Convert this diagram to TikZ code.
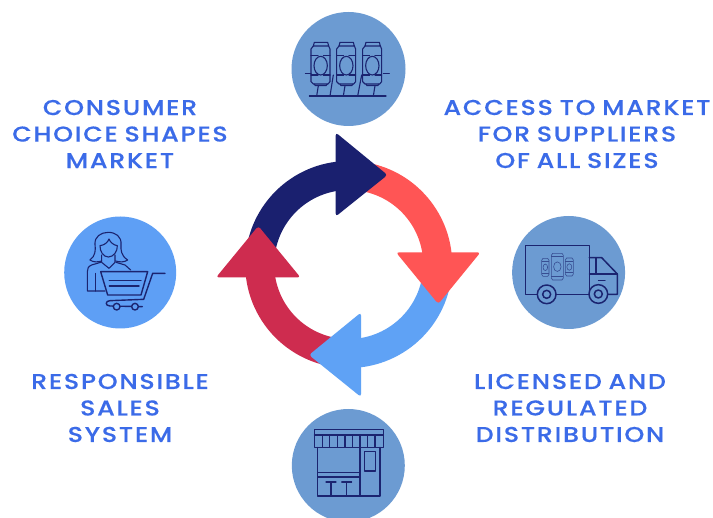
\documentclass[tikz,border=0pt]{standalone}
\usepackage{fontspec}
\setmainfont{Poppins Medium}[LetterSpace=8,FakeStretch=1.18,WordSpace=0.8,FakeBold=0.25]
\definecolor{navyc}{HTML}{1A206F}
\definecolor{coralc}{HTML}{FF5555}
\definecolor{bluec}{HTML}{5FA2F5}
\definecolor{crimc}{HTML}{CE2C4F}
\definecolor{discc}{HTML}{6C9BD2}
\definecolor{disccb}{HTML}{5E9FF5}
\definecolor{textc}{HTML}{3B6BE8}
\definecolor{inkc}{HTML}{1B2470}
\tikzset{
  caption/.style={text=textc,align=center,font=\fontsize{21.5}{26.5}\selectfont,inner sep=0pt},
  disc/.style={circle,fill=discc,inner sep=0pt,draw=none},
  ring/.style={line width=29pt,line cap=butt},
  head/.style={rounded corners=3pt,draw=none},
  ink/.style={draw=inkc,line width=1.1pt,line join=round,line cap=round},
  thinink/.style={draw=inkc!65!discc,line width=0.6pt},
}
\newcommand{\canshape}[1]{%
  \begin{scope}[shift={(#1,197)}]
    \draw[ink] (-19,-70) -- (21,-70) -- (24,-59) -- (-22,-59) -- cycle;
    \draw[ink] (-22,-59) -- (-29,-50) -- (-29,48) -- (-22,55) -- (22,55) -- (28,48) -- (28,-50) -- (24,-59);
    \draw[ink] (-19,55) -- (-16,60) -- (16,60) -- (20,55);
    \draw[ink] (-29,-30) -- (-8,-30) (8,-30) -- (28,-30);
    \draw[ink] (-29,28) -- (-8,28) (8,28) -- (28,28);
    \draw[ink] (0,0) ellipse [x radius=20,y radius=28];
  \end{scope}}
\newcommand{\minican}[4]{%
  \draw[thinink] (#1-#3,#2-#4+6) -- (#1-#3+4,#2-#4) -- (#1+#3-4,#2-#4) -- (#1+#3,#2-#4+6) -- (#1+#3,#2+#4-6) -- (#1+#3-4,#2+#4) -- (#1-#3+4,#2+#4) -- (#1-#3,#2+#4-6) -- cycle;
  \draw[thinink] (#1,#2) ellipse [x radius=#3*0.62,y radius=#4*0.36];
  \draw[thinink] (#1-#3,#2-#4+10) -- (#1+#3,#2-#4+10) (#1-#3,#2+#4-10) -- (#1+#3,#2+#4-10);}
\begin{document}
\begin{tikzpicture}[x=1pt,y=-1pt]
\useasboundingbox (0,0) rectangle (713,518);
\fill[white] (0,0) rectangle (713,518);
% discs
\node[disc,minimum size=114pt] (dtop) at (348.5,69) {};
\node[disc,minimum size=113pt] (dright) at (568.6,272.5) {};
\node[disc,minimum size=113pt] (dbottom) at (348.3,465.5) {};
\node[disc,fill=disccb,minimum size=112pt] (dleft) at (120.2,272.5) {};
% captions
\node[caption] (tl) at (120,134) {CONSUMER\\CHOICE SHAPES\\MARKET};
\node[caption] (tr) at (577,134) {ACCESS TO MARKET\\FOR SUPPLIERS\\OF ALL SIZES};
\node[caption] (bl) at (120,408) {RESPONSIBLE\\SALES\\SYSTEM};
\node[caption] (br) at (570,408) {LICENSED AND\\REGULATED\\DISTRIBUTION};
% ring
\coordinate (c) at (348.7,264.5);
\begin{scope}[y=1pt]
  \draw[ring,crimc] (c) ++(-95:89) arc[start angle=-95,end angle=-175,radius=89];
  \draw[ring,navyc] (c) ++(175:89) arc[start angle=175,end angle=95,radius=89];
  \draw[ring,coralc] (c) ++(80:89) arc[start angle=80,end angle=-5,radius=89];
  \draw[ring,bluec] (c) ++(-5:89) arc[start angle=-5,end angle=-95,radius=89];
\end{scope}
\fill[head,crimc] (258.3,226) -- (216,277.5) -- (300.5,277.5) -- cycle;
\fill[head,navyc] (335.7,132.5) -- (387.5,175) -- (335.7,216.5) -- cycle;
\fill[head,coralc] (396,252.3) -- (480.5,252.3) -- (438.3,304) -- cycle;
\fill[head,bluec] (361,312.5) -- (309,355) -- (361,397) -- cycle;
% top icon: cans on a stand
\begin{scope}[shift={(280,0)},x=0.33333pt,y=-0.33333pt]
  \canshape{122}\canshape{199}\canshape{277}
  \draw[ink] (88,288) -- (318,288);
  \draw[ink] (76,221) -- (93,221) (310,221) -- (328,221);
  \draw[ink] (115,257) -- (110,288) (160,225) -- (150,288) (195,257) -- (190,288) (245,225) -- (233,288) (285,257) -- (280,288);
\end{scope}
% right icon: truck
\begin{scope}[shift={(500,205)},x=0.33333pt,y=-0.33333pt]
  \minican{136}{187}{11}{27}\minican{208}{186}{12}{27}\minican{172}{185}{18}{40}
  \draw[ink,line width=1.5pt] (268,268) -- (77,268) -- (77,122) -- (268,122) -- (268,268);
  \draw[ink,line width=1.5pt] (268,158) -- (305,158) -- (352,207) -- (352,268) -- (268,268);
  \draw[ink] (288,158) -- (288,207) (268,207) -- (352,207) (295,226) -- (315,226);
  \draw[ink,line width=1.5pt,fill=discc] (140,268) circle [radius=28];
  \draw[ink,line width=1.5pt] (140,268) circle [radius=12];
  \draw[ink,line width=1.5pt,fill=discc] (295,267) circle [radius=28];
  \draw[ink,line width=1.5pt] (295,267) circle [radius=12];
\end{scope}
% bottom icon: shop
\begin{scope}[shift={(280,400)},x=0.33333pt,y=-0.33333pt]
  \draw[ink] (103,88) rectangle (310,142);
  \draw[ink] (103,105) -- (310,105);
  \foreach \vx in {127,149,172,195,217,240,262,285} \draw[ink] (\vx,105) -- (\vx,142);
  \draw[ink] (113,142) -- (113,288) -- (300,288) -- (300,142);
  \draw[ink] (240,142) -- (240,288);
  \draw[ink] (254,154) rectangle (286,213);
  \draw[ink] (113,217) -- (240,217) (113,231) -- (240,231);
  \draw[ink] (138,246) -- (168,246) (153,246) -- (153,288);
  \draw[ink] (185,246) -- (215,246) (200,246) -- (200,288);
\end{scope}
% left icon: shopper with cart
\begin{scope}[shift={(55,205)},x=0.33333pt,y=-0.33333pt]
  \draw[ink] (105,165) .. controls (122,152) and (122,135) .. (120,118) .. controls (118,95) and (138,82) .. (160,82) .. controls (182,82) and (200,95) .. (198,118) .. controls (197,135) and (198,152) .. (218,165) .. controls (208,172) and (195,172) .. (182,168);
  \draw[ink] (105,165) .. controls (115,172) and (128,172) .. (140,168);
  \draw[ink] (135,122) .. controls (150,120) and (158,112) .. (162,102) .. controls (166,112) and (175,120) .. (187,122) .. controls (188,140) and (175,156) .. (160,156) .. controls (146,156) and (134,140) .. (135,122);
  \draw[ink] (140,150) -- (140,172) -- (162,190) -- (180,172) -- (180,150);
  \draw[ink] (137,172) -- (110,180) .. controls (100,184) and (97,190) .. (97,200) -- (97,258) -- (150,258);
  \draw[ink] (122,205) -- (122,258);
  \draw[ink] (183,172) -- (210,180) -- (227,195);
  \draw[ink,line width=1.4pt] (137,200) -- (278,200) -- (258,270) -- (158,270) -- cycle;
  \draw[ink,line width=1.4pt] (163,226) -- (258,226) (163,243) -- (252,243);
  \draw[ink,line width=1.4pt] (330,205) -- (293,205) -- (266,283) -- (165,287) .. controls (150,287) and (150,303) .. (165,303) -- (262,305);
  \draw[ink,line width=1.4pt,fill=disccb] (185,305) circle [radius=10];
  \draw[ink,line width=1.4pt,fill=disccb] (240,305) circle [radius=10];
\end{scope}
\end{tikzpicture}
\end{document}
